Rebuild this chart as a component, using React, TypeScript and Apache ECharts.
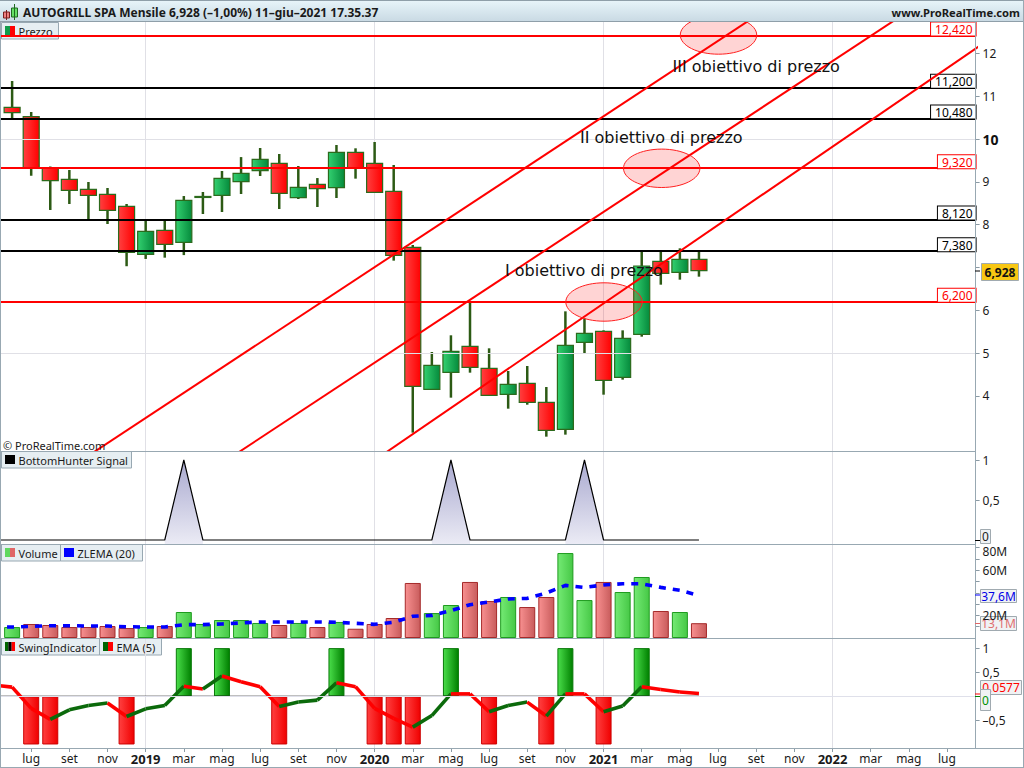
import React, { useEffect, useRef } from "react";
import * as echarts from "echarts";

const FONT = '"Noto Sans", sans-serif';
const NOTE_FONT = '"DejaVu Sans", sans-serif';

// Month labels, one per band. The first band (May 2018) lies left of the page edge.
const months = [
  "mag","giu","lug","ago","set","ott","nov","dic",
  "2019","feb","mar","apr","mag","giu","lug","ago","set","ott","nov","dic",
  "2020","feb","mar","apr","mag","giu","lug","ago","set","ott","nov","dic",
  "2021","feb","mar","apr","mag","giu","lug","ago","set","ott","nov","dic",
  "2022","feb","mar","apr","mag","giu","lug","ago",
];

// Monthly prices from June 2018 to June 2021
const opens = [10.742,10.524,9.333,9.06,8.826,8.71,8.43,7.308,7.868,7.588,8.65,8.686,9.005,9.262,9.434,8.632,8.943,8.865,9.691,9.434,8.78,7.472,4.154,4.551,5.159,4.645,4.037,4.294,3.85,3.219,5.252,5.509,4.434,5.439,7.144,6.887,7.191];
const closes = [10.618,9.333,9.029,8.8,8.686,8.336,7.354,7.845,7.54,8.57,8.66,9.083,9.2,9.527,8.733,8.873,8.842,9.69,9.317,8.757,7.285,4.224,4.715,5.042,4.668,4.014,4.271,3.85,3.196,5.182,5.462,4.364,5.345,7.035,6.864,7.191,6.928];
const lows = [10.485,9.146,8.344,8.484,8.11,8.016,7.03,7.2,7.23,7.29,8.25,8.297,8.717,9.138,8.367,8.6,8.413,8.624,9.076,8.757,7.16,3.141,4.154,3.959,4.543,4.014,3.702,3.795,3.048,3.095,4.987,4.029,4.38,5.384,6.599,6.716,6.786];
const highs = [11.357,10.633,9.36,9.278,8.998,8.858,8.484,8.11,8.11,8.67,8.764,9.255,9.58,9.792,9.652,9.372,9.09,9.862,9.785,9.933,9.395,7.526,5.026,5.416,6.202,5.112,4.582,4.699,4.208,5.976,5.813,5.532,5.532,7.37,7.37,7.448,7.37];

const redLevels = [12.42, 9.32, 6.2];
const blackLevels = [11.2, 10.48, 8.12, 7.38];
const priceGridValues = [5, 10];
const priceTicks = [4, 5, 6, 7, 8, 9, 10, 11, 12];
const priceLabels = [4, 5, 6, 8, 9, 10, 11, 12];

// Channel lines as [band index, price]
const channelA = [[5, 2.603], [42, 13.47]];
const channelB = [[12, 2.427], [49, 13.29]];
const channelC = [[20, 2.497], [52, 12.266]];

const hunterSignal = [0,0,0,0,0,0,0,0,0,0,1,0,0,0,0,0,0,0,0,0,0,0,0,0,1,0,0,0,0,0,0,1,0,0,0,0,0,0];

const volumes = [null,9.7,12.4,11.5,9.7,9.7,10.6,8.8,9.7,10.6,23,12.4,15.9,15.9,13.3,11.5,13.3,9.7,14.2,8.2,12.4,17.7,48.7,22.1,29.2,49.6,32.7,36.3,27.4,36.3,75.2,33.6,49.6,40.7,54,23.9,23,13.1];
const volumeDirections = ["","g","r","r","r","r","r","r","g","r","g","g","g","g","g","r","g","r","g","r","r","r","r","g","g","r","r","g","r","r","g","g","r","g","g","r","g","r"];
const zlema = [9.6,9.7,10.3,10.9,10.9,10.6,10.6,10,9.7,9.7,11.8,11.8,12.4,13.3,14.2,14.2,14.2,14.2,13.9,13,12.1,13.9,19.2,20,24.2,29.5,31.9,34.5,35.1,39.8,46.6,44.8,46.9,48,48,44.8,42.2,37.6];
const volumeTicks = [10, 20, 30, 40, 50, 60, 70, 80];
const volumeLabels = [20, 60, 80];

const swing = [0,0,-1,-1,0,0,0,-1,0,0,1,0,1,0,0,-1,0,0,1,0,-1,-1,-1,0,1,0,-1,0,0,-1,1,0,-1,0,1,0,0,0];
const ema = [0.235,0.19,-0.25,-0.48,-0.28,-0.19,-0.14,-0.42,-0.26,-0.19,0.21,0.15,0.42,0.3,0.2,-0.21,-0.12,-0.08,0.28,0.2,-0.25,-0.46,-0.64,-0.4,0.05,0.05,-0.32,-0.19,-0.12,-0.41,0.05,0.05,-0.32,-0.2,0.2,0.14,0.09,0.0577];
const zeroLine = [0,0,0,0,0,0,0,0,0,0,0,0,0,0,0,0,0,0,0,0,0,0,0,0,0,0,0,0,0,0,0,0,0,0,0,0,0,0];

const GRID_LEFT = -16.5;
const GRID_W = 992.1;
const AXIS_X = 975;
const FRAME = "#98a8b2";

const hGrad = (a: string, b: string) =>
  new echarts.graphic.LinearGradient(0, 0, 1, 0, [{ offset: 0, color: a }, { offset: 1, color: b }]);

const isYear = (v: string) => /^\d/.test(v);
const isLabelled = (i: number) => i > 0 && i % 2 === 0;
const isJanuary = (i: number) => isYear(months[i]);
const comma = (v: number) => String(v).replace(".", ",").replace("-", "–");

function renderCandle(_p: any, api: any) {
  const i = api.value(0);
  const o = api.value(1), c = api.value(2), l = api.value(3), h = api.value(4);
  const [x, yo] = api.coord([i, o]);
  const yc = api.coord([i, c])[1];
  const yl = api.coord([i, l])[1];
  const yh = api.coord([i, h])[1];
  const up = c >= o;
  const W = 16;
  const top = Math.min(yo, yc);
  const bh = Math.max(Math.abs(yo - yc), 1);
  return {
    type: "group",
    children: [
      { type: "rect", shape: { x: x - 1.25, y: yh, width: 2.5, height: yl - yh }, style: { fill: "#2c5a14" } },
      {
        type: "rect",
        shape: { x: x - W / 2, y: top, width: W, height: bh },
        style: {
          fill: up ? hGrad("#33d070", "#058a3c") : hGrad("#ff4040", "#ff0000"),
          stroke: "#2c6a1c",
          lineWidth: 1.2,
        },
      },
    ],
  };
}

function renderEmaSegment(_p: any, api: any) {
  const i = api.value(0);
  const a = api.coord([i, api.value(1)]);
  const b = api.coord([i + 1, api.value(2)]);
  return {
    type: "line",
    shape: { x1: a[0], y1: a[1], x2: b[0], y2: b[1] },
    style: { stroke: api.value(2) > api.value(1) ? "#0b6a0b" : "#ff0000", lineWidth: 3.6 },
  };
}

const levelLine = (v: number, color: string) => ({
  yAxis: v,
  lineStyle: { color, width: 2, type: "solid" },
  label: {
    show: true,
    position: "insideEndTop",
    distance: 0,
    formatter: v.toFixed(3).replace(".", ","),
    color,
    backgroundColor: "#fff",
    borderColor: color,
    borderWidth: 1,
    padding: [1, 3, 0, 4],
    fontFamily: FONT,
    fontSize: 12,
  },
});

function tab(x: number, y: number, w: number, label: string, colors: string[]) {
  const sw = 10 / colors.length;
  return {
    type: "group",
    z: 60,
    children: [
      { type: "rect", shape: { x: x + 0.5, y: y + 0.5, width: w, height: 16.5 }, style: { fill: "#e6eef2", stroke: FRAME, lineWidth: 1 } },
      ...colors.map((c, k) => ({ type: "rect", shape: { x: x + 4 + k * sw, y: y + 4, width: sw, height: 9 }, style: { fill: c } })),
      { type: "text", x: x + 17.5, y: y + 9, style: { text: label, fill: "#1a1a1a", font: `11px ${FONT}`, verticalAlign: "middle" } },
    ],
  };
}

function valueBox(x: number, y: number, w: number, h: number, label: string, color: string, bg: string, bold = false) {
  return {
    type: "group",
    z: 70,
    children: [
      { type: "rect", shape: { x: x + 0.5, y: y + 0.5, width: w, height: h }, style: { fill: bg, stroke: "#a0aab0", lineWidth: 1 } },
      {
        type: "text",
        x: x + w / 2 + 0.5,
        y: y + h / 2 + 0.5,
        style: { text: label, fill: color, font: `${bold ? "bold " : ""}12px ${FONT}`, align: "center", verticalAlign: "middle" },
      },
    ],
  };
}

const note = (x: number, y: number, label: string) => ({
  type: "text",
  z: 40,
  x,
  y,
  style: { text: label, fill: "#111", font: `16px ${NOTE_FONT}`, verticalAlign: "middle" },
});

const zone = (cx: number, cy: number) => ({
  type: "ellipse",
  z: 30,
  shape: { cx, cy, rx: 38.2, ry: 19.2 },
  style: { fill: "rgba(255,0,0,0.17)", stroke: "#ff2020", lineWidth: 1 },
});

const hline = (x1: number, x2: number, y: number, color = FRAME, lw = 1) => ({
  type: "line",
  z: 55,
  shape: { x1, y1: y, x2, y2: y },
  style: { stroke: color, lineWidth: lw },
});
const vline = (x: number, y1: number, y2: number, color = FRAME) => ({
  type: "line",
  z: 55,
  shape: { x1: x, y1, x2: x, y2 },
  style: { stroke: color, lineWidth: 1 },
});

function buildOption() {
  const tops = [22, 451, 544, 638];
  const heights = [429, 93, 94, 110];
  const grid = tops.map((top, k) => ({
    left: GRID_LEFT,
    width: GRID_W,
    top,
    height: heights[k],
    outerBoundsMode: "none",
    containLabel: false,
  }));

  const xAxis: any[] = tops.map((_, k) => ({
    type: "category",
    gridIndex: k,
    data: months,
    boundaryGap: true,
    axisLine: { show: false, onZero: false },
    axisTick:
      k === 3
        ? { show: true, interval: isLabelled, alignWithLabel: true, length: 4, lineStyle: { color: "#8a9aa4" } }
        : { show: false },
    axisLabel:
      k === 3
        ? {
            show: true,
            interval: isLabelled,
            hideOverlap: false,
            margin: 4,
            color: "#1a1a1a",
            fontFamily: FONT,
            fontSize: 12,
            formatter: (v: string) => (isYear(v) ? `{y|${v}}` : v),
            rich: { y: { fontFamily: FONT, fontSize: 13, fontWeight: "bold", color: "#1a1a1a" } },
          }
        : { show: false },
    splitLine: { show: true, interval: isJanuary, alignWithLabel: true, lineStyle: { color: "#e0e0e6", width: 1 } },
  }));
  // hidden numeric twin of the top x axis, for the channel lines that run past the last band
  xAxis.push({ type: "value", gridIndex: 0, min: -0.5, max: 51.5, show: false, axisLine: { onZero: false }, splitLine: { show: false } });

  const baseY = (k: number, min: number, max: number, ticks: number[], labels: number[], fmt: any, rich?: any) => ({
    type: "value",
    gridIndex: k,
    position: "right",
    min,
    max,
    axisLine: { show: false, onZero: false },
    axisTick: { show: true, customValues: ticks, length: 4, lineStyle: { color: "#8a9aa4" } },
    axisLabel: {
      show: true,
      customValues: labels,
      margin: 7,
      color: "#1a1a1a",
      fontFamily: FONT,
      fontSize: 12,
      formatter: fmt,
      rich,
    },
    splitLine: { show: false },
  });

  const yAxis = [
    baseY(0, 2.713, 12.736, priceTicks, priceLabels, (v: number) => (v === 10 ? `{b|${v}}` : String(v)), {
      b: { fontFamily: FONT, fontSize: 14, fontWeight: "bold", color: "#111" },
    }),
    baseY(1, -0.05, 1.1125, [0, 0.5, 1], [0.5, 1], comma),
    baseY(2, 0, 83.2, volumeTicks, volumeLabels, (v: number) => (v === 80 ? `{t|${v}M}` : `${v}M`), {
      t: { padding: [8, 0, 0, 0], fontFamily: FONT, fontSize: 12, color: "#1a1a1a" },
    }),
    baseY(3, -1.073, 1.21, [-0.5, 0, 0.5, 1], [-0.5, 0.5, 1], comma),
  ];

  const candleData = opens.map((o, i) => [i + 1, o, closes[i], lows[i], highs[i]]);
  const emaSegments = ema.slice(0, -1).map((v, i) => [i, v, ema[i + 1]]);
  const hunterArea = hunterSignal.map((v, i) =>
    v > 0 || hunterSignal[i - 1] > 0 || hunterSignal[i + 1] > 0 ? v : null
  );

  const channel = (data: number[][]) => ({
    type: "line",
    xAxisIndex: 4,
    yAxisIndex: 0,
    data,
    showSymbol: false,
    clip: true,
    z: 6,
    silent: true,
    lineStyle: { color: "#ff0000", width: 2 },
  });

  const series: any[] = [
    {
      type: "custom",
      name: "Prezzo",
      xAxisIndex: 0,
      yAxisIndex: 0,
      renderItem: renderCandle,
      encode: { x: 0, y: [1, 2, 3, 4] },
      data: candleData,
      z: 3,
      markLine: {
        silent: true,
        symbol: "none",
        z: 5,
        data: [
          ...priceGridValues.map((v) => ({ yAxis: v, label: { show: false }, lineStyle: { color: "#e0e0e6", width: 1, type: "solid" } })),
          ...redLevels.map((v) => levelLine(v, "#ff0000")),
          ...blackLevels.map((v) => levelLine(v, "#000000")),
        ],
      },
    },
    channel(channelA),
    channel(channelB),
    channel(channelC),
    {
      type: "line",
      name: "BottomHunter Area",
      xAxisIndex: 1,
      yAxisIndex: 1,
      data: hunterArea,
      showSymbol: false,
      lineStyle: { width: 0 },
      areaStyle: {
        origin: "start",
        opacity: 1,
        color: new echarts.graphic.LinearGradient(0, 0, 0, 1, [
          { offset: 0, color: "#a9a9cf" },
          { offset: 1, color: "#ebebf5" },
        ]),
      },
      z: 2,
    },
    {
      type: "line",
      name: "BottomHunter Signal",
      xAxisIndex: 1,
      yAxisIndex: 1,
      data: hunterSignal,
      showSymbol: false,
      lineStyle: { color: "#000", width: 1.2 },
      z: 3,
    },
    {
      type: "bar",
      name: "Volume",
      xAxisIndex: 2,
      yAxisIndex: 2,
      barWidth: 16,
      data: volumes.map((v, i) => ({
        value: v,
        itemStyle:
          volumeDirections[i] === "g"
            ? { color: hGrad("#74ea74", "#46c846"), borderColor: "#1f9b1f", borderWidth: 1 }
            : { color: hGrad("#f89090", "#c85c5c"), borderColor: "#a52a2a", borderWidth: 1 },
      })),
      z: 2,
    },
    {
      type: "line",
      name: "ZLEMA (20)",
      xAxisIndex: 2,
      yAxisIndex: 2,
      data: zlema,
      showSymbol: false,
      lineStyle: { color: "#0000ff", width: 3.6, type: [7, 7] },
      z: 3,
    },
    {
      type: "bar",
      name: "SwingIndicator",
      xAxisIndex: 3,
      yAxisIndex: 3,
      barWidth: 16,
      data: swing.map((v) => ({
        value: v === 0 ? null : v,
        itemStyle:
          v > 0
            ? { color: hGrad("#4ade4a", "#008000"), borderColor: "#0a7a0a", borderWidth: 1 }
            : { color: hGrad("#ff4040", "#f00000"), borderColor: "#cc0000", borderWidth: 1 },
      })),
      z: 2,
      markLine: {
        silent: true,
        symbol: "none",
        label: { show: false },
        data: [{ yAxis: 0, lineStyle: { color: "#dfe0ea", width: 1, type: "solid" } }],
      },
    },
    {
      type: "line",
      name: "Swing zero",
      xAxisIndex: 3,
      yAxisIndex: 3,
      data: zeroLine,
      showSymbol: false,
      lineStyle: { color: "#000", width: 1.2 },
      z: 3,
    },
    {
      type: "custom",
      name: "EMA (5)",
      xAxisIndex: 3,
      yAxisIndex: 3,
      renderItem: renderEmaSegment,
      encode: { x: 0, y: [1, 2] },
      data: emaSegments,
      z: 4,
    },
  ];

  const graphic = [
    // header bar
    {
      type: "rect",
      z: 50,
      shape: { x: 0, y: 0, width: 1024, height: 22 },
      style: {
        fill: new echarts.graphic.LinearGradient(0, 0, 0, 1, [
          { offset: 0, color: "#e8f5fa" },
          { offset: 1, color: "#c8d9e3" },
        ]),
      },
    },
    hline(0, 1024, 21.5, "#8f9fa9"),
    hline(0, 1024, 0.5, "#8f9fa9"),
    { type: "rect", z: 56, shape: { x: 3.5, y: 12, width: 6, height: 6 }, style: { fill: "#f08080", stroke: "#7a2020", lineWidth: 1 } },
    { type: "line", z: 56, shape: { x1: 6.5, y1: 10, x2: 6.5, y2: 20 }, style: { stroke: "#7a2020", lineWidth: 1 } },
    { type: "rect", z: 56, shape: { x: 11.5, y: 8, width: 6, height: 9 }, style: { fill: "#66e066", stroke: "#1f6a1f", lineWidth: 1 } },
    { type: "line", z: 56, shape: { x1: 14.5, y1: 4, x2: 14.5, y2: 20 }, style: { stroke: "#1f6a1f", lineWidth: 1 } },
    {
      type: "text",
      z: 56,
      x: 23,
      y: 12,
      style: {
        text: "AUTOGRILL SPA Mensile 6,928 (–1,00%) 11–giu–2021 17.35.37",
        fill: "#1a1a1a",
        font: `bold 12px ${FONT}`,
        verticalAlign: "middle",
      },
    },
    {
      type: "text",
      z: 56,
      x: 1020,
      y: 12,
      style: {
        text: "www.ProRealTime.com",
        fill: "#1a1a1a",
        font: `bold 11.2px ${FONT}`,
        align: "right",
        verticalAlign: "middle",
      },
    },
    // panel frame
    hline(0, AXIS_X, 451.5),
    hline(0, AXIS_X, 544.5),
    hline(0, AXIS_X, 638.5),
    hline(0, 1024, 748.5),
    hline(0, 1024, 767.5),
    vline(0.5, 22, 768),
    vline(AXIS_X + 0.5, 22, 748),
    vline(1023.5, 0, 768),
    // zones and notes
    zone(604, 302),
    zone(661.7, 168.3),
    zone(718.5, 35),
    note(505, 270, "I obiettivo di prezzo"),
    note(580, 137, "II obiettivo di prezzo"),
    note(672.5, 66, "III obiettivo di prezzo"),
    { type: "text", z: 40, x: 3, y: 445, style: { text: "© ProRealTime.com", fill: "#1a1a1a", font: `11px ${FONT}`, verticalAlign: "middle" } },
    // panel tabs
    tab(1, 22, 57, "Prezzo", ["#0f9b4a", "#ff0000"]),
    tab(1, 451, 130, "BottomHunter Signal", ["#000000"]),
    tab(60, 544, 82, "ZLEMA (20)", ["#0000ff"]),
    tab(1, 544, 59, "Volume", ["#5fd85f", "#e06666"]),
    tab(99, 638, 62, "EMA (5)", ["#006400", "#ff0000"]),
    tab(1, 638, 98, "SwingIndicator", ["#006400", "#000000", "#ff0000"]),
    // last-value markers
    hline(AXIS_X, 980, 271, "#000"),
    hline(AXIS_X, 980, 595, "#0000ff"),
    hline(AXIS_X, 980, 623.5, "#e06666"),
    hline(AXIS_X, 980, 694, "#ff0000"),
    hline(AXIS_X, 980, 696.5, "#008000"),
    hline(AXIS_X, 980, 540.5, "#000"),
    valueBox(981, 263, 37, 17, "6,928", "#111", "#f8c712", true),
    valueBox(980, 529, 10, 14, "0", "#222", "#f0f2f4"),
    valueBox(980, 589, 36, 13, "37,6M", "#0000e6", "#f0f2f4"),
    valueBox(980, 616, 36, 14, "13,1M", "#e07070", "#f0f2f4"),
    valueBox(980, 680, 41, 14, "0,0577", "#ff0000", "#f0f2f4"),
    valueBox(980, 689, 10, 21, "0", "#009000", "#f0f2f4"),
  ];

  return { animation: false, backgroundColor: "#ffffff", grid, xAxis, yAxis, series, graphic };
}

export default function App() {
  const ref = useRef<HTMLDivElement>(null);
  useEffect(() => {
    document.body.style.margin = "0";
    const chart = echarts.init(ref.current!, undefined, { renderer: "svg" });
    chart.setOption(buildOption() as any);
    return () => chart.dispose();
  }, []);
  return <div ref={ref} style={{ position: "absolute", left: 0, top: 0, width: 1024, height: 768 }} />;
}
